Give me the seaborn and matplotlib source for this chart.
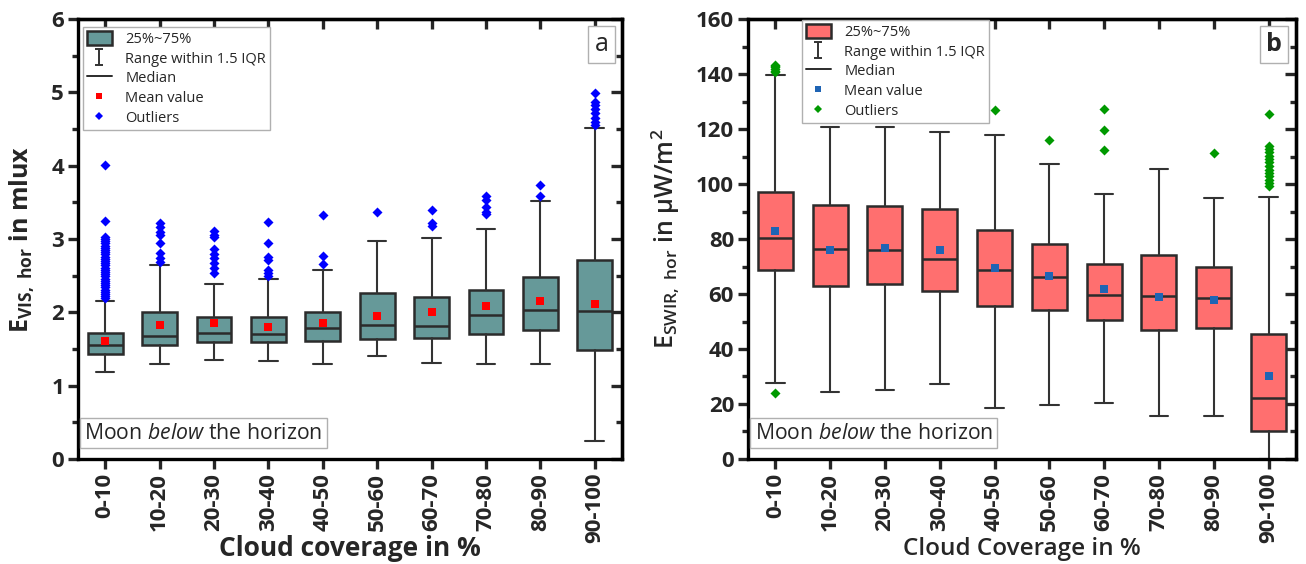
import numpy as np
import pandas as pd
import matplotlib
matplotlib.use("Agg")
import matplotlib.pyplot as plt
import seaborn as sns
from matplotlib.lines import Line2D
from matplotlib.patches import Patch
from matplotlib.path import Path
from matplotlib.ticker import MultipleLocator

# ---------------- data ----------------
categories = ["0-10", "10-20", "20-30", "30-40", "40-50",
              "50-60", "60-70", "70-80", "80-90", "90-100"]

# Panel a: E_VIS,hor in mlux
vis_whislo = [1.18, 1.29, 1.35, 1.34, 1.30, 1.41, 1.31, 1.29, 1.30, 0.25]
vis_q1     = [1.43, 1.55, 1.59, 1.59, 1.61, 1.63, 1.65, 1.71, 1.76, 1.49]
vis_med    = [1.55, 1.68, 1.72, 1.71, 1.79, 1.83, 1.81, 1.96, 2.03, 2.02]
vis_q3     = [1.72, 2.00, 1.94, 1.93, 2.01, 2.27, 2.21, 2.31, 2.48, 2.71]
vis_whishi = [2.16, 2.65, 2.39, 2.45, 2.58, 2.97, 3.02, 3.13, 3.52, 4.52]
vis_mean   = [1.61, 1.83, 1.85, 1.80, 1.85, 1.95, 2.00, 2.08, 2.15, 2.11]
vis_outliers = [
    [2.19, 2.22, 2.25, 2.28, 2.31, 2.34, 2.37, 2.40, 2.43, 2.46, 2.49, 2.52,
     2.55, 2.58, 2.61, 2.64, 2.67, 2.70, 2.73, 2.76, 2.79, 2.82, 2.85, 2.88,
     2.91, 2.94, 2.97, 3.00, 3.03, 3.24, 4.01],
    [2.69, 2.74, 2.81, 2.95, 3.06, 3.10, 3.17, 3.22],
    [2.54, 2.60, 2.67, 2.74, 2.80, 2.86, 3.03, 3.06, 3.11],
    [2.49, 2.53, 2.58, 2.71, 2.76, 2.94, 3.23],
    [2.66, 2.77, 3.33],
    [3.37],
    [3.18, 3.22, 3.40],
    [3.34, 3.37, 3.44, 3.53, 3.58],
    [3.59, 3.74],
    [4.56, 4.60, 4.65, 4.72, 4.78, 4.83, 4.87, 4.99],
]

# Panel b: E_SWIR,hor in uW/m^2
swir_whislo = [27.5, 24.5, 25.2, 27.3, 18.5, 19.5, 20.4, 15.8, 15.6, 0.1]
swir_q1     = [68.6, 62.9, 63.8, 61.1, 55.8, 54.2, 50.4, 46.8, 47.5, 10.3]
swir_med    = [80.4, 76.2, 76.1, 72.6, 68.8, 66.3, 59.8, 59.4, 58.4, 22.1]
swir_q3     = [97.0, 92.2, 92.1, 90.9, 83.2, 78.3, 70.8, 74.2, 69.9, 45.5]
swir_whishi = [139.8, 120.8, 120.6, 118.9, 117.9, 107.4, 96.4, 105.3, 94.8, 95.3]
swir_mean   = [82.9, 76.1, 76.7, 75.9, 69.5, 66.5, 61.7, 59.0, 57.7, 30.1]
swir_outliers = [
    [24.1, 140.6, 141.2, 141.8, 142.4, 142.9, 143.4],
    [],
    [],
    [],
    [126.9],
    [116.1],
    [112.4, 119.5, 127.4],
    [],
    [111.3],
    [99.2, 100.3, 101.5, 102.8, 104.0, 105.2, 106.5, 108.0, 109.0, 110.2,
     111.5, 112.8, 113.8, 125.3],
]

legend_labels = ["25%~75%", "Range within 1.5 IQR", "Median", "Mean value", "Outliers"]

# ---------------- style ----------------
sns.set_style("ticks")
plt.rcParams["font.family"] = ["Open Sans", "DejaVu Sans"]
plt.rcParams["mathtext.fontset"] = "custom"
plt.rcParams["mathtext.rm"] = "Open Sans"
plt.rcParams["mathtext.it"] = "Open Sans:italic"
plt.rcParams["mathtext.bf"] = "Open Sans:bold"
plt.rcParams["mathtext.default"] = "regular"

fig = plt.figure(figsize=(13.06, 5.64), dpi=100)
axA = fig.add_axes([0.0597, 0.1862, 0.4165, 0.780])
axB = fig.add_axes([0.5727, 0.1862, 0.4196, 0.780])

I_path = Path([(-0.5, 1), (0.5, 1), (0, 1), (0, -1), (-0.5, -1), (0.5, -1)],
              [Path.MOVETO, Path.LINETO, Path.MOVETO, Path.LINETO, Path.MOVETO, Path.LINETO])

EDGE = "#2b2b2b"
WH = "#333333"
SPW = 2.4


def panel(ax, lo, q1, med, q3, hi, mean, outl, face, mean_c, out_c,
          ylim, ymaj, ymin, ylabel, xlabel, label_weight, xlabel_size, xlabel_y,
          letter, letter_weight, leg_anchor, ylab_x):
    pos = np.arange(len(categories))
    stats = []
    for i in range(len(categories)):
        stats.append(dict(med=med[i], q1=q1[i], q3=q3[i], whislo=lo[i], whishi=hi[i],
                          mean=mean[i], fliers=[], label=categories[i]))
    ax.bxp(stats, positions=pos, widths=0.64, capwidths=0.34, patch_artist=True,
           showmeans=False, showfliers=False,
           boxprops=dict(facecolor=face, edgecolor=EDGE, linewidth=1.8),
           medianprops=dict(color=EDGE, linewidth=1.8),
           whiskerprops=dict(color=WH, linewidth=1.5),
           capprops=dict(color=WH, linewidth=1.5))
    # outliers
    ox, oy = [], []
    for i, vals in enumerate(outl):
        ox += [i] * len(vals)
        oy += vals
    df_o = pd.DataFrame({"x": ox, "y": oy})
    sns.scatterplot(data=df_o, x="x", y="y", ax=ax, marker="D", color=out_c,
                    s=26, linewidth=0, zorder=4, legend=False)
    # means
    df_m = pd.DataFrame({"x": pos, "y": mean})
    sns.scatterplot(data=df_m, x="x", y="y", ax=ax, marker="s", color=mean_c,
                    s=26, linewidth=0, zorder=5, legend=False)

    ax.set_xlim(-0.5, 9.5)
    ax.set_ylim(*ylim)
    ax.set_xticks(pos)
    ax.set_xticklabels(categories, rotation=90, fontsize=16, fontweight="bold")
    ax.yaxis.set_major_locator(MultipleLocator(ymaj))
    ax.yaxis.set_minor_locator(MultipleLocator(ymin))
    for lab in ax.get_yticklabels():
        lab.set_fontsize(16)
        lab.set_fontweight("bold")
    ax.tick_params(axis="both", which="major", direction="out", length=7, width=SPW, pad=3)
    ax.tick_params(axis="y", which="minor", direction="out", length=4, width=SPW)
    ax.tick_params(axis="x", which="minor", bottom=False)
    for sp in ax.spines.values():
        sp.set_visible(True)
        sp.set_linewidth(SPW)
        sp.set_color("black")
    ax.set_xlabel(xlabel, fontsize=xlabel_size, fontweight=label_weight)
    ax.xaxis.set_label_coords(0.5, xlabel_y)
    ax.set_ylabel(ylabel, fontsize=18, fontweight=label_weight)
    ax.yaxis.set_label_coords(ylab_x, 0.5)

    # mirrored axes with inward ticks
    secy = ax.secondary_yaxis("right")
    secy.yaxis.set_major_locator(MultipleLocator(ymaj))
    secy.yaxis.set_minor_locator(MultipleLocator(ymin))
    secy.tick_params(which="major", direction="in", length=8, width=SPW, labelright=False)
    secy.tick_params(which="minor", direction="in", length=4, width=SPW)
    secy.spines["right"].set_linewidth(SPW)
    secx = ax.secondary_xaxis("top")
    secx.set_xticks(pos)
    secx.tick_params(which="major", direction="in", length=7, width=SPW, labeltop=False)
    secx.tick_params(which="minor", top=False)
    secx.spines["top"].set_linewidth(SPW)

    # legend
    handles = [
        Patch(facecolor=face, edgecolor=EDGE, linewidth=1.8),
        Line2D([], [], linestyle="none", marker=I_path, markersize=12,
               markeredgecolor=WH, markeredgewidth=1.4, fillstyle="none"),
        Line2D([], [], color=EDGE, linewidth=1.4),
        Line2D([], [], linestyle="none", marker="s", markersize=4.5,
               markerfacecolor=mean_c, markeredgewidth=0),
        Line2D([], [], linestyle="none", marker="D", markersize=4.5,
               markerfacecolor=out_c, markeredgewidth=0),
    ]
    leg = ax.legend(handles, legend_labels, loc="upper left", bbox_to_anchor=leg_anchor,
                    borderaxespad=0, fancybox=False, framealpha=1, edgecolor="#b0b0b0",
                    prop={"size": 10.5, "weight": "medium"}, handlelength=1.75,
                    handleheight=1.15, labelspacing=0.25, borderpad=0.25, handletextpad=0.9)
    leg.get_frame().set_linewidth(1.0)
    leg.set_zorder(10)

    ax.text(0.012, 0.035, "Moon $\\mathit{below}$ the horizon", transform=ax.transAxes,
            fontsize=15.3, ha="left", va="bottom", zorder=10,
            bbox=dict(boxstyle="square,pad=0.2", facecolor="white", edgecolor="#b0b0b0", linewidth=1))
    ax.text(0.975, 0.942, letter, transform=ax.transAxes, fontsize=18, fontweight=letter_weight,
            ha="right", va="center", zorder=10,
            bbox=dict(boxstyle="square,pad=0.25", facecolor="white", edgecolor="#b0b0b0", linewidth=1))


panel(axA, vis_whislo, vis_q1, vis_med, vis_q3, vis_whishi, vis_mean, vis_outliers,
      "#669999", "#ff0000", "#0000ff", (0, 6), 1, 0.5,
      "E$_{VIS,\\ hor}$ in mlux", "Cloud coverage in %", "bold", 19, -0.172, "a", "normal",
      (0.009, 0.982), -0.075)
panel(axB, swir_whislo, swir_q1, swir_med, swir_q3, swir_whishi, swir_mean, swir_outliers,
      "#ff6f6f", "#1f64b4", "#009900", (0, 160), 20, 10,
      "E$_{SWIR,\\ hor}$ in \u03bcW/m$^2$", "Cloud Coverage in %", "semibold", 17.5, -0.178,
      "b", "bold", (0.0985, 0.998), -0.12)

fig.savefig("out.png", dpi=100)
